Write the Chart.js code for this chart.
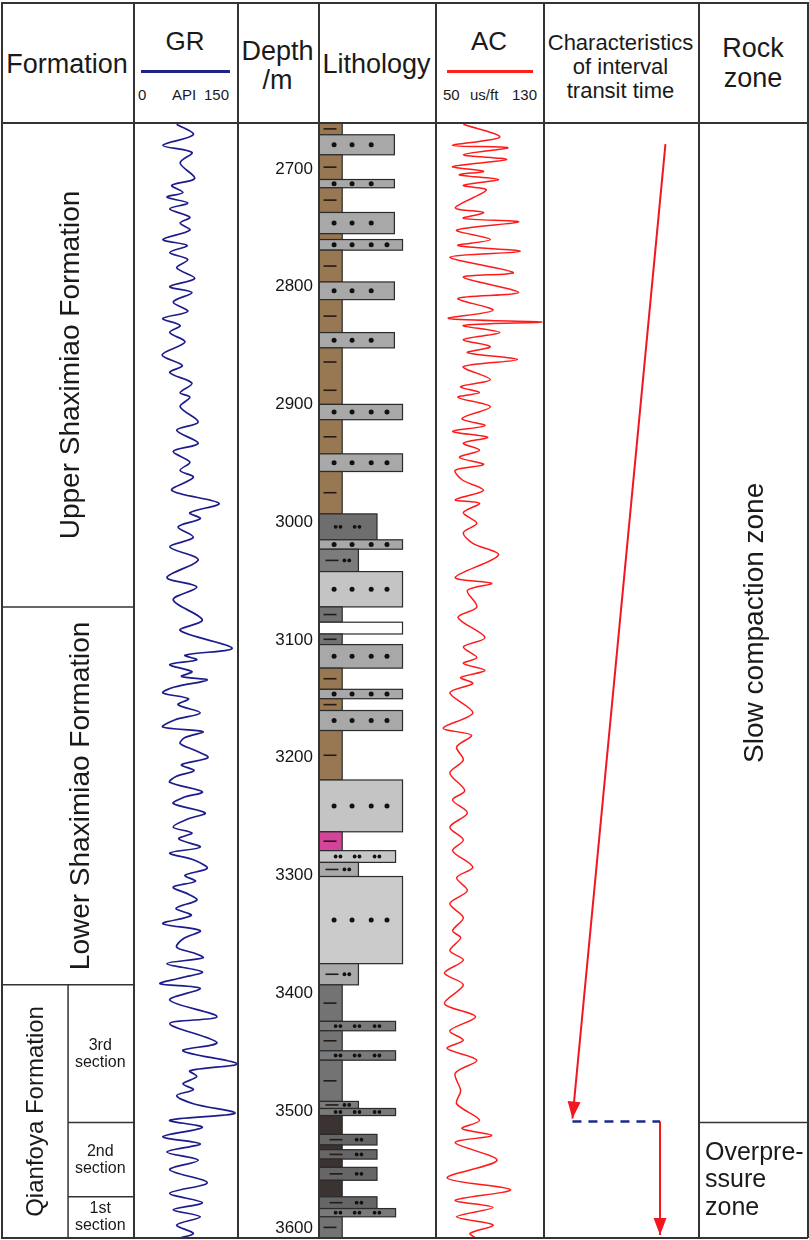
<!DOCTYPE html>
<html>
<head>
<meta charset="utf-8">
<script src="https://cdn.jsdelivr.net/npm/chart.js@4.4.0/dist/chart.umd.min.js"></script>
<style>
  body { margin: 0; background: #fff; }
  #wrap { position: relative; width: 809px; height: 1240px; overflow: hidden; background: #fff;
          font-family: Arial, "Liberation Sans", sans-serif; color: #1a1a1a; }
  .t { position: absolute; white-space: nowrap; line-height: 1.15; }
  .vl { position: absolute; width: 1.5px; background: #333; }
  .hl { position: absolute; height: 1.5px; background: #333; }
  .key { position: absolute; height: 2.5px; }
  canvas { position: absolute; }
</style>
</head>
<body>
<div id="wrap">
  <!-- header -->
  <div class="t" style="left:1px;width:132px;top:49px;font-size:27px;text-align:center">Formation</div>

  <div class="t" style="left:133px;width:104px;top:27px;font-size:26px;text-align:center">GR</div>
  <div class="key" style="left:141px;top:70px;width:89px;background:#22228a"></div>
  <div class="t" style="left:138px;top:86px;font-size:15px">0</div>
  <div class="t" style="left:172px;top:86px;font-size:15px">API</div>
  <div class="t" style="left:204px;top:86px;font-size:15px">150</div>

  <div class="t" style="left:237px;width:81px;top:37px;font-size:27px;line-height:29px;text-align:center">Depth<br>/m</div>

  <div class="t" style="left:318px;width:117px;top:49px;font-size:27px;text-align:center">Lithology</div>

  <div class="t" style="left:435px;width:108px;top:27px;font-size:26px;text-align:center">AC</div>
  <div class="key" style="left:447px;top:70px;width:86px;background:#ff2020"></div>
  <div class="t" style="left:443px;top:86px;font-size:15px">50</div>
  <div class="t" style="left:470px;top:86px;font-size:15px">us/ft</div>
  <div class="t" style="left:512px;top:86px;font-size:15px">130</div>

  <div class="t" style="left:543px;width:155px;top:31px;font-size:22px;line-height:24px;text-align:center">Characteristics<br>of interval<br>transit time</div>

  <div class="t" style="left:698px;width:110px;top:33px;font-size:27px;line-height:30px;text-align:center">Rock<br>zone</div>

  <!-- tracks -->
  <canvas id="formation" width="132" height="1115" style="left:1px;top:123px;width:132px;height:1115px"></canvas>
  <canvas id="gr" width="104" height="1115" style="left:133px;top:123px;width:104px;height:1115px"></canvas>
  <canvas id="lith" width="198" height="1115" style="left:237px;top:123px;width:198px;height:1115px"></canvas>
  <canvas id="ac" width="108" height="1115" style="left:435px;top:123px;width:108px;height:1115px"></canvas>
  <canvas id="trend" width="155" height="1115" style="left:543px;top:123px;width:155px;height:1115px"></canvas>
  <canvas id="zone" width="110" height="1115" style="left:698px;top:123px;width:110px;height:1115px"></canvas>

  <!-- frame -->
  <div class="hl" style="left:1px;top:2px;width:807px"></div>
  <div class="hl" style="left:1px;top:122px;width:807px"></div>
  <div class="hl" style="left:1px;top:1237px;width:807px"></div>
  <div class="vl" style="left:1px;top:2px;height:1236px"></div>
  <div class="vl" style="left:133px;top:2px;height:1236px"></div>
  <div class="vl" style="left:237px;top:2px;height:1236px"></div>
  <div class="vl" style="left:318px;top:2px;height:1236px"></div>
  <div class="vl" style="left:435px;top:2px;height:1236px"></div>
  <div class="vl" style="left:543px;top:2px;height:1236px"></div>
  <div class="vl" style="left:698px;top:2px;height:1236px"></div>
  <div class="vl" style="left:807px;top:2px;height:1236px"></div>
</div>

<script>
// ---- data ----
const DEPTH_MIN = 2661;
const DEPTH_MAX = 3608;
const DEPTH_TICKS = [2700, 2800, 2900, 3000, 3100, 3200, 3300, 3400, 3500, 3600];

// gamma ray, API
const GR_DEPTH = [
  2662, 2671, 2680, 2686, 2695, 2708, 2714, 2720, 2724, 2729,
  2734, 2741, 2746, 2752, 2760, 2765, 2771, 2777, 2784, 2793,
  2800, 2805, 2813, 2821, 2827, 2833, 2839, 2847, 2858, 2867,
  2873, 2882, 2890, 2894, 2902, 2915, 2922, 2933, 2940, 2949,
  2956, 2962, 2973, 2984, 2992, 2997, 3004, 3013, 3021, 3032,
  3047, 3055, 3066, 3083, 3092, 3107, 3113, 3117, 3121, 3127,
  3131, 3134, 3140, 3145, 3150, 3155, 3162, 3168, 3174, 3178,
  3183, 3188, 3194, 3200, 3206, 3211, 3216, 3221, 3229, 3234,
  3239, 3247, 3252, 3259, 3264, 3269, 3276, 3281, 3287, 3294,
  3300, 3305, 3310, 3316, 3321, 3328, 3334, 3341, 3347, 3354,
  3361, 3366, 3370, 3375, 3382, 3387, 3392, 3396, 3406, 3420,
  3426, 3442, 3449, 3460, 3466, 3471, 3477, 3482, 3487, 3494,
  3502, 3508, 3514, 3522, 3528, 3535, 3542, 3550, 3561, 3570,
  3578, 3584, 3590, 3597, 3604, 3608
];
const GR_API = [
  63, 87, 43, 85, 68, 89, 56, 72, 49, 79,
  53, 82, 68, 82, 43, 78, 53, 79, 63, 89,
  53, 85, 58, 79, 43, 68, 53, 75, 42, 71,
  53, 85, 68, 82, 68, 94, 63, 94, 58, 82,
  68, 87, 56, 124, 82, 97, 65, 87, 53, 94,
  49, 92, 58, 100, 68, 143, 75, 92, 53, 85,
  70, 107, 60, 43, 80, 65, 97, 60, 43, 101,
  75, 68, 90, 108, 70, 88, 62, 53, 100, 72,
  58, 104, 80, 58, 85, 66, 97, 53, 88, 107,
  75, 90, 58, 80, 92, 62, 84, 43, 97, 72,
  63, 88, 101, 49, 100, 70, 39, 97, 53, 121,
  53, 121, 72, 150, 82, 92, 72, 87, 63, 87,
  147, 53, 100, 43, 97, 49, 94, 53, 107, 53,
  100, 58, 97, 63, 87, 68
];

// acoustic, us/ft
const AC_DEPTH = [
  2662, 2673, 2680, 2682, 2688, 2692, 2698, 2702, 2705, 2709,
  2714, 2718, 2733, 2737, 2742, 2745, 2752, 2760, 2765, 2770,
  2775, 2788, 2792, 2805, 2810, 2820, 2827, 2830, 2833, 2839,
  2845, 2851, 2856, 2862, 2868, 2879, 2885, 2890, 2894, 2902,
  2912, 2918, 2923, 2928, 2933, 2939, 2945, 2951, 2956, 2964,
  2973, 2981, 2984, 2992, 3001, 3009, 3018, 3028, 3047, 3052,
  3058, 3072, 3081, 3098, 3106, 3115, 3120, 3126, 3132, 3137,
  3145, 3162, 3175, 3181, 3191, 3202, 3213, 3228, 3236, 3247,
  3259, 3270, 3279, 3293, 3302, 3313, 3324, 3336, 3347, 3353,
  3364, 3372, 3383, 3393, 3409, 3420, 3432, 3440, 3447, 3457,
  3468, 3483, 3494, 3508, 3515, 3521, 3527, 3542, 3557, 3567,
  3576, 3582, 3590, 3597, 3604, 3608
];
const AC_US = [
  71, 98, 63, 104, 71, 103, 63, 86, 68, 97,
  71, 88, 65, 86, 71, 112, 66, 91, 67, 113,
  61, 108, 71, 112, 67, 93, 60, 129, 71, 98,
  71, 91, 74, 111, 71, 91, 69, 83, 67, 91,
  70, 87, 63, 89, 71, 83, 68, 86, 65, 70,
  86, 65, 83, 71, 81, 71, 78, 97, 65, 92,
  74, 81, 67, 87, 71, 81, 71, 87, 69, 78,
  61, 78, 56, 77, 66, 71, 61, 72, 63, 74,
  61, 71, 63, 78, 66, 74, 61, 71, 63, 69,
  61, 71, 57, 71, 57, 80, 61, 71, 59, 81,
  65, 69, 66, 83, 70, 92, 65, 96, 59, 106,
  65, 93, 66, 93, 76, 80
];

// lithology intervals
const LITH_TOP = [
  2661, 2671, 2688, 2709, 2716, 2737, 2755, 2760, 2769, 2796,
  2811, 2839, 2852, 2900, 2913, 2942, 2957, 2993, 3015, 3023,
  3042, 3072, 3085, 3095, 3104, 3124, 3142, 3150, 3160, 3177,
  3219, 3263, 3279, 3289, 3301, 3375, 3393, 3424, 3432, 3449,
  3457, 3492, 3498, 3504, 3520, 3529, 3533, 3541, 3548, 3559,
  3573, 3583, 3590
];
const LITH_BASE = [
  2671, 2688, 2709, 2716, 2737, 2755, 2760, 2769, 2796, 2811,
  2839, 2852, 2900, 2913, 2942, 2957, 2993, 3015, 3023, 3042,
  3072, 3085, 3095, 3104, 3124, 3142, 3150, 3160, 3177, 3219,
  3263, 3279, 3289, 3301, 3375, 3393, 3424, 3432, 3449, 3457,
  3492, 3498, 3504, 3520, 3529, 3533, 3541, 3548, 3559, 3573,
  3583, 3590, 3608
];
const LITH_TYPE = [
  'mud', 'sand3', 'mud', 'sand3', 'mud', 'sand3', 'mud', 'sand4', 'mud', 'sand3',
  'mud', 'sand3', 'mud', 'sand4', 'mud', 'sand4', 'mud', 'silt2', 'sand4', 'siltyMud',
  'sandLight', 'mudGray', 'white', 'mudGray', 'sand4', 'mud', 'sand4', 'mud', 'sand4', 'mud',
  'sandLight', 'mudRed', 'siltLight', 'siltyMudLight', 'sandPale', 'siltyMudLight', 'mudGray', 'silt3', 'mudGray', 'silt3',
  'mudGray', 'siltyMud', 'silt3', 'mudDark', 'siltyMudDark', 'mudDark', 'siltyMudDark', 'mudDark', 'siltyMudDark', 'mudDark',
  'siltyMudDark', 'silt3', 'mudGray'
];

// stratigraphy and zones
const FORMATION_NAMES = ['Upper Shaximiao Formation', 'Lower Shaximiao Formation', 'Qianfoya Formation'];
const FORMATION_TOP = [2661, 3072, 3393];
const FORMATION_BASE = [3072, 3393, 3608];
const SECTION_NAMES = [['3rd', 'section'], ['2nd', 'section'], ['1st', 'section']];
const SECTION_TOP = [3393, 3510, 3573];
const SECTION_BASE = [3510, 3573, 3608];
const ZONE_NAMES = [['Slow compaction zone'], ['Overpre-', 'ssure', 'zone']];
const ZONE_TOP = [2661, 3510];
const ZONE_BASE = [3510, 3608];

// interval transit time trend (relative units 0-100)
const TREND_DEPTH = [2679, 3506.5];
const TREND_DT = [79, 19];
const BREAK_DEPTH = [3509, 3509];
const BREAK_DT = [19, 75.5];
const OVER_DEPTH = [3509, 3605.5];
const OVER_DT = [75.5, 75.5];

// ---- styles ----
const FONT = 'Arial, "Liberation Sans", sans-serif';
const INK = '#1a1a1a';
const RULE = '#333333';
Chart.defaults.font.family = FONT;

const LITH_STYLE = {
  mud:           { fill: '#977853', size: 20, dash: 9.5 },
  mudGray:       { fill: '#737373', size: 20, dash: 9.5 },
  mudDark:       { fill: '#3b3232', size: 20 },
  mudRed:        { fill: '#d4449a', size: 20, dash: 9.5 },
  siltyMud:      { fill: '#7c7c7c', size: 34, dash: 11.2, pairs: [24] },
  siltyMudLight: { fill: '#a9a9a9', size: 34, dash: 11.2, pairs: [24] },
  siltyMudDark:  { fill: '#666666', size: 50, dash: 14.7, pairs: [34.5] },
  silt2:         { fill: '#6e6e6e', size: 50, pairs: [16.4, 32.8] },
  silt3:         { fill: '#7a7a7a', size: 66, pairs: [16.4, 32.8, 50] },
  siltLight:     { fill: '#c6c6c6', size: 66, pairs: [16.4, 32.8, 50] },
  sand3:         { fill: '#a8a8a8', size: 65, dots: [13, 28.5, 45] },
  sand4:         { fill: '#a8a8a8', size: 72, dots: [13, 28.5, 45, 58.6] },
  sandLight:     { fill: '#c4c4c4', size: 72, dots: [13, 28.5, 45, 58.6] },
  sandPale:      { fill: '#cbcbcb', size: 72, dots: [13, 28.5, 45, 58.6] },
  white:         { fill: '#ffffff', size: 72 }
};

function baseOptions(xMin, xMax) {
  return {
    responsive: false,
    animation: false,
    events: [],
    layout: { padding: 0 },
    plugins: { legend: { display: false }, tooltip: { enabled: false } },
    scales: {
      x: { type: 'linear', min: xMin, max: xMax, display: false },
      y: { type: 'linear', min: DEPTH_MIN, max: DEPTH_MAX, reverse: true, display: false }
    }
  };
}

function points(depths, values) {
  return depths.map((d, i) => ({ x: values[i], y: d }));
}

function dot(ctx, x, y, r) {
  ctx.beginPath();
  ctx.arc(x, y, r, 0, Math.PI * 2);
  ctx.fill();
}

function rotatedText(ctx, text, cx, cy, font) {
  ctx.save();
  ctx.translate(cx, cy);
  ctx.rotate(-Math.PI / 2);
  ctx.font = font;
  ctx.fillStyle = INK;
  ctx.textAlign = 'center';
  ctx.textBaseline = 'middle';
  ctx.fillText(text, 0, 0);
  ctx.restore();
}

function hLine(ctx, x0, x1, y) {
  ctx.beginPath();
  ctx.moveTo(x0, y);
  ctx.lineTo(x1, y);
  ctx.stroke();
}

// ---- plugins ----
const lithologyPlugin = {
  id: 'lithology',
  beforeDatasetsDraw(chart) {
    const { ctx, scales: { x, y } } = chart;
    ctx.save();
    LITH_TYPE.forEach((type, i) => {
      const st = LITH_STYLE[type];
      const x0 = x.getPixelForValue(0);
      const x1 = x.getPixelForValue(st.size);
      const y0 = y.getPixelForValue(LITH_TOP[i]);
      const y1 = y.getPixelForValue(LITH_BASE[i]);
      const h = y1 - y0;
      const ym = (y0 + y1) / 2;
      ctx.fillStyle = st.fill;
      ctx.fillRect(x0, y0, x1 - x0, h);
      ctx.strokeStyle = '#2b2b2b';
      ctx.lineWidth = 1.2;
      ctx.strokeRect(x0, y0, x1 - x0, h);

      ctx.strokeStyle = '#231b14';
      ctx.fillStyle = '#111';
      ctx.lineWidth = 1.6;
      if (st.dash != null) {
        const cx = x.getPixelForValue(st.dash);
        const n = st.pairs ? 1 : (h < 9 ? 0 : Math.max(1, Math.round(h / 35)));
        for (let k = 0; k < n; k++) {
          const yy = y0 + h * (k + 0.5) / n;
          hLine(ctx, cx - 6.5, cx + 6.5, yy);
        }
      }
      (st.pairs || []).forEach(v => {
        const cx = x.getPixelForValue(v);
        dot(ctx, cx - 2.4, ym, 1.9);
        dot(ctx, cx + 2.4, ym, 1.9);
      });
      (st.dots || []).forEach(v => dot(ctx, x.getPixelForValue(v), ym, 2.5));
    });
    ctx.restore();
  }
};

const arrowPlugin = {
  id: 'arrows',
  afterDatasetsDraw(chart) {
    const ctx = chart.ctx;
    chart.data.datasets.forEach((ds, i) => {
      if (!ds.arrow) return;
      const pts = chart.getDatasetMeta(i).data;
      const a = pts[pts.length - 2], b = pts[pts.length - 1];
      const ang = Math.atan2(b.y - a.y, b.x - a.x);
      ctx.save();
      ctx.translate(b.x, b.y);
      ctx.rotate(ang);
      ctx.fillStyle = ds.borderColor;
      ctx.beginPath();
      ctx.moveTo(0, 0);
      ctx.lineTo(-17, -6.5);
      ctx.lineTo(-17, 6.5);
      ctx.closePath();
      ctx.fill();
      ctx.restore();
    });
  }
};

const FORMATION_LABEL_X = [0.53, 0.605, 0.27];
const SECTION_SPLIT_X = 0.508;
const SECTION_LABEL_X = 0.752;

const formationPlugin = {
  id: 'formation',
  afterDraw(chart) {
    const { ctx, chartArea: a, scales: { y } } = chart;
    ctx.save();
    ctx.strokeStyle = RULE;
    ctx.lineWidth = 1.5;
    FORMATION_NAMES.forEach((name, i) => {
      const yt = y.getPixelForValue(FORMATION_TOP[i]);
      const yb = y.getPixelForValue(FORMATION_BASE[i]);
      if (i > 0) hLine(ctx, a.left, a.right, yt);
      const size = i < 2 ? 28 : 24;
      rotatedText(ctx, name, a.left + a.width * FORMATION_LABEL_X[i], (yt + yb) / 2, size + 'px ' + FONT);
    });
    const xs = a.left + a.width * SECTION_SPLIT_X;
    ctx.beginPath();
    ctx.moveTo(xs, y.getPixelForValue(SECTION_TOP[0]));
    ctx.lineTo(xs, a.bottom);
    ctx.stroke();
    ctx.fillStyle = INK;
    ctx.font = '16px ' + FONT;
    ctx.textAlign = 'center';
    ctx.textBaseline = 'middle';
    SECTION_NAMES.forEach((lines, i) => {
      const yt = y.getPixelForValue(SECTION_TOP[i]);
      const yb = y.getPixelForValue(SECTION_BASE[i]);
      if (i > 0) hLine(ctx, xs, a.right, yt);
      const cy = (yt + yb) / 2;
      lines.forEach((s, k) => {
        ctx.fillText(s, a.left + a.width * SECTION_LABEL_X, cy + (k - (lines.length - 1) / 2) * 17);
      });
    });
    ctx.restore();
  }
};

const zonePlugin = {
  id: 'zones',
  afterDraw(chart) {
    const { ctx, chartArea: a, scales: { y } } = chart;
    ctx.save();
    ctx.strokeStyle = RULE;
    ctx.lineWidth = 1.5;
    ZONE_NAMES.forEach((lines, i) => {
      const yt = y.getPixelForValue(ZONE_TOP[i]);
      const yb = y.getPixelForValue(ZONE_BASE[i]);
      if (i > 0) hLine(ctx, a.left, a.right, yt);
      if (lines.length === 1) {
        rotatedText(ctx, lines[0], a.left + a.width * 0.52, (yt + yb) / 2, '28px ' + FONT);
      } else {
        ctx.fillStyle = INK;
        ctx.font = '25px ' + FONT;
        ctx.textAlign = 'left';
        ctx.textBaseline = 'middle';
        const cy = (yt + yb) / 2;
        lines.forEach((s, k) => {
          ctx.fillText(s, a.left + 7, cy + (k - (lines.length - 1) / 2) * 27.5);
        });
      }
    });
    ctx.restore();
  }
};

// ---- charts ----
new Chart(document.getElementById('formation'), {
  type: 'scatter',
  data: { datasets: [] },
  options: baseOptions(0, 1),
  plugins: [formationPlugin]
});

new Chart(document.getElementById('gr'), {
  type: 'scatter',
  data: {
    datasets: [{
      data: points(GR_DEPTH, GR_API),
      showLine: true,
      borderColor: '#1c1c8c',
      borderWidth: 1.7,
      pointRadius: 0,
      tension: 0.32
    }]
  },
  options: baseOptions(0, 150)
});

const lithOptions = baseOptions(0, 100);
lithOptions.scales.y = {
  type: 'linear',
  min: DEPTH_MIN,
  max: DEPTH_MAX,
  reverse: true,
  position: 'left',
  afterBuildTicks(scale) {
    scale.ticks = DEPTH_TICKS.map(v => ({ value: v }));
  },
  afterFit(scale) {
    scale.width = 82;
    scale.paddingTop = 0;
    scale.paddingBottom = 0;
  },
  grid: { display: false, drawTicks: false },
  border: { display: false },
  ticks: {
    color: '#151515',
    padding: 6,
    font: { size: 17, family: FONT },
    callback: v => String(v)
  }
};
new Chart(document.getElementById('lith'), {
  type: 'scatter',
  data: { datasets: [] },
  options: lithOptions,
  plugins: [lithologyPlugin]
});

new Chart(document.getElementById('ac'), {
  type: 'scatter',
  data: {
    datasets: [{
      data: points(AC_DEPTH, AC_US),
      showLine: true,
      borderColor: '#ff1a1a',
      borderWidth: 1.5,
      pointRadius: 0,
      tension: 0.3
    }]
  },
  options: baseOptions(50, 130)
});

new Chart(document.getElementById('trend'), {
  type: 'scatter',
  data: {
    datasets: [
      { data: points(TREND_DEPTH, TREND_DT), showLine: true, borderColor: '#f2161e', borderWidth: 2, pointRadius: 0, arrow: true },
      { data: points(BREAK_DEPTH, BREAK_DT), showLine: true, borderColor: '#1a2a8c', borderWidth: 2.5, borderDash: [9, 7], pointRadius: 0 },
      { data: points(OVER_DEPTH, OVER_DT), showLine: true, borderColor: '#f2161e', borderWidth: 2, pointRadius: 0, arrow: true }
    ]
  },
  options: baseOptions(0, 100),
  plugins: [arrowPlugin]
});

new Chart(document.getElementById('zone'), {
  type: 'scatter',
  data: { datasets: [] },
  options: baseOptions(0, 1),
  plugins: [zonePlugin]
});
</script>
</body>
</html>
